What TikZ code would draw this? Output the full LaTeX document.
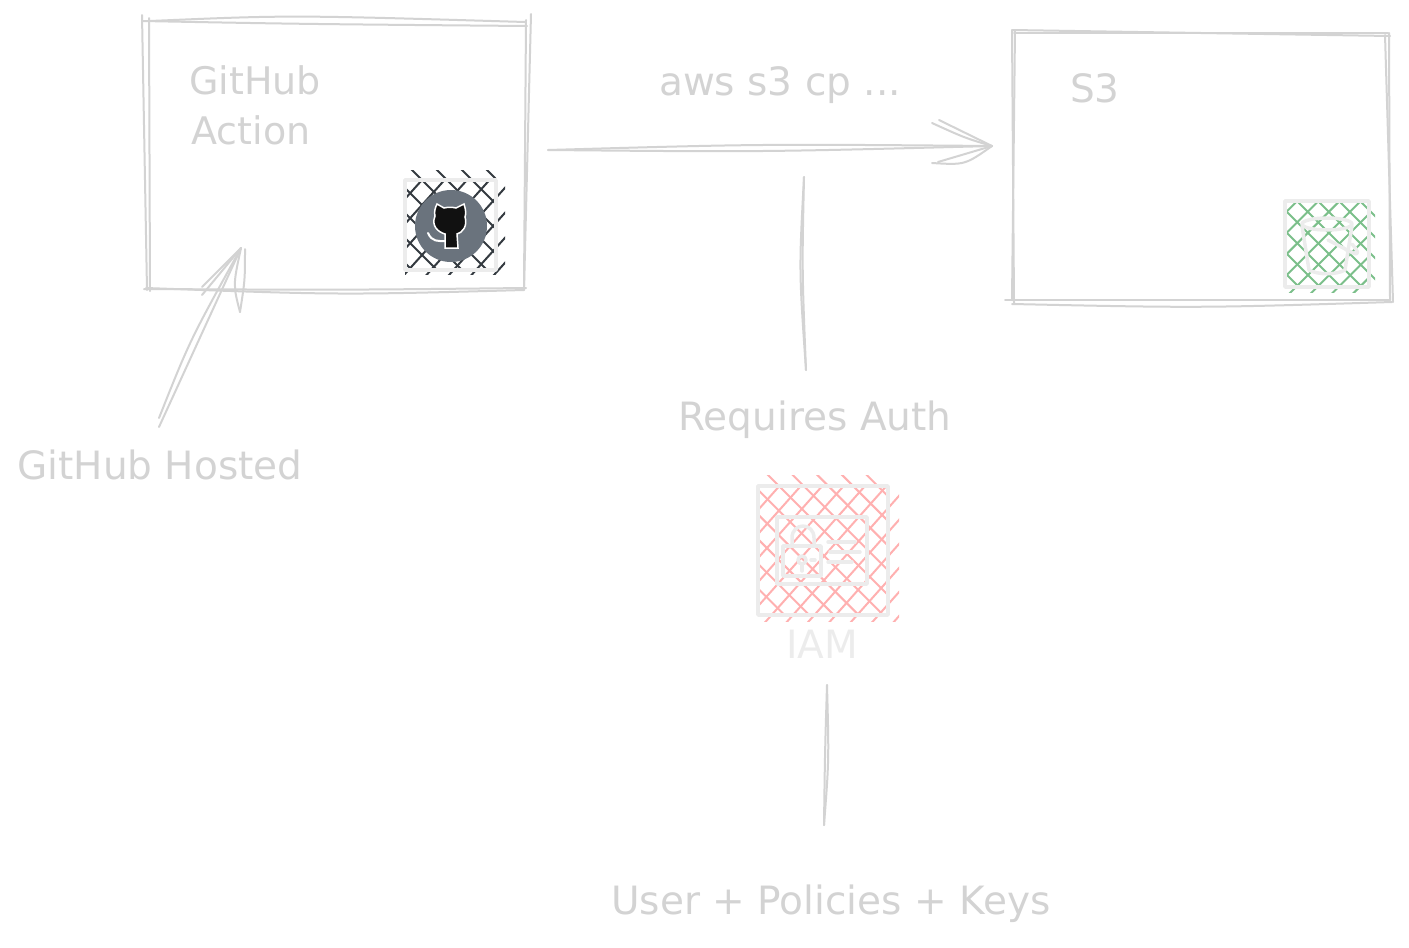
\documentclass[tikz,border=0pt]{standalone}
\usepackage{fontspec}
\setmainfont{DejaVu Sans}
\definecolor{sketchgray}{HTML}{D3D3D3}
\definecolor{iconline}{HTML}{ECECEC}
\definecolor{hatchdark}{HTML}{343A40}
\definecolor{hatchgreen}{HTML}{7BBF8A}
\definecolor{hatchred}{HTML}{FFB0B0}
\definecolor{octogray}{HTML}{6A737D}
\definecolor{octoblack}{HTML}{111111}
\tikzset{
	sketch/.style={draw=sketchgray, line width=2pt, line cap=round},
	iconstroke/.style={draw=iconline, line width=3.5pt, line join=round, line cap=round},
	sketchlabel/.style={text=sketchgray, font=\fontsize{39}{44}\selectfont, inner sep=0pt},
}
% one direction of a hatch: colour, dx per dy, point on a line, spacing, clip corners
\newcommand{\hatchlines}[6]{
	\begin{scope}
		\clip #5 rectangle #6;
		\path #3 coordinate (hatchref);
		\foreach \k in {-14,...,14}
			\draw[#1, line width=2pt] ([shift={(\k*#4-150*#2,-150)}]hatchref) -- ([shift={(\k*#4+150*#2,150)}]hatchref);
	\end{scope}
}
\begin{document}
\begin{tikzpicture}[x=1pt, y=-1pt]
	\useasboundingbox (0,0) rectangle (1409,948);

	% Draw the action box
	\draw[sketch] (142,15) -- (147,290);
	\draw[sketch] (149,18) -- (150,291);
	\draw[sketch] (142,21) .. controls (300,24) .. (527,26);
	\draw[sketch] (150,21) .. controls (290,15) .. (525,22);
	\draw[sketch] (531,14) -- (524,290);
	\draw[sketch] (526,20) -- (524,286);
	\draw[sketch] (144,289) .. controls (340,290) .. (526,288);
	\draw[sketch] (146,288) .. controls (340,295) .. (524,290);

	% Draw the bucket box
	\draw[sketch] (1012,30) -- (1014,303);
	\draw[sketch] (1015,30) -- (1012,300);
	\draw[sketch] (1012,30) -- (1390,36);
	\draw[sketch] (1014,33) -- (1388,33);
	\draw[sketch] (1385,35) -- (1393,302);
	\draw[sketch] (1389,33) -- (1390,300);
	\draw[sketch] (1005,300) -- (1390,300);
	\draw[sketch] (1012,304) .. controls (1200,308) .. (1392,302);

	% Labels
	\node[sketchlabel, font=\fontsize{38}{44}\selectfont] (actionone) at (255,80) {GitHub};
	\node[sketchlabel, font=\fontsize{38}{44}\selectfont] (actiontwo) at (251,130) {Action};
	\node[sketchlabel] (copycmd) at (780,85) {aws s3 cp ...};
	\node[sketchlabel] (bucket) at (1095,88) {S3};
	\node[sketchlabel] (hosted) at (160,465) {GitHub Hosted};
	\node[sketchlabel] (auth) at (815,420) {Requires Auth};
	\node[sketchlabel] (keys) at (831,904) {User + Policies + Keys};
	\node[sketchlabel, text=iconline] (iamlabel) at (822,644) {IAM};

	% Free ends of the connectors
	\coordinate (hostedstart) at (159,427);
	\coordinate (hostedstarttwo) at (159,418);
	\coordinate (hostedend) at (241,248);
	\coordinate (hostedendtwo) at (245,249);
	\coordinate (copystart) at (548,150);
	\coordinate (copyend) at (992,146);
	\coordinate (authtop) at (804,177);
	\coordinate (authend) at (806,370);
	\coordinate (keysstart) at (824,825);
	\coordinate (keysend) at (827,685);

	% Draw the hosted arrow
	\draw[sketch] (hostedstart) -- (hostedend);
	\draw[sketch] (hostedstarttwo) .. controls (190,340) .. (hostedend);
	\draw[sketch] (202,287) -- (hostedend);
	\draw[sketch] (202,295) -- (hostedend);
	\draw[sketch] (240,312) .. controls (233,285) .. (hostedend);
	\draw[sketch] (240,312) .. controls (245,280) .. (hostedendtwo);

	% Draw the copy arrow
	\draw[sketch] (copystart) .. controls (760,152) .. (copyend);
	\draw[sketch] (copystart) .. controls (760,144) .. (copyend);
	\draw[sketch] (932,123) .. controls (965,138) .. (copyend);
	\draw[sketch] (939,120) -- (copyend);
	\draw[sketch] (932,163) .. controls (965,165) .. (copyend);
	\draw[sketch] (938,162) -- (copyend);

	% Draw the plain lines
	\draw[sketch] (authtop) .. controls (799,270) .. (authend);
	\draw[sketch] (authtop) .. controls (802,270) .. (authend);
	\draw[sketch] (keysstart) .. controls (829,760) .. (keysend);
	\draw[sketch] (keysstart) .. controls (825,750) .. (keysend);

	% Draw the github icon
	\hatchlines{hatchdark}{1}{(420,178)}{25}{(405,170)}{(496,270)}
	\hatchlines{hatchdark}{-0.9}{(503,190)}{22.5}{(405,180)}{(505,274)}
	\draw[iconstroke] (405,180) rectangle (496,270);
	\fill[octogray] (451,226) circle (36);
	\draw[white, line width=1.5pt, fill=octoblack] (437,204) -- (444,208) .. controls (448,207) and (452,207) .. (456,208) -- (464,204)
		.. controls (466,210) and (466,214) .. (465,217) .. controls (468,226) and (462,233) .. (457,234) -- (458,248) -- (445,248) -- (445,234)
		.. controls (438,232) and (431,226) .. (435,216) .. controls (434,212) and (435,208) .. (437,204) -- cycle;
	\draw[white, line width=2pt, line cap=round] (428,233) .. controls (432,242) and (438,241) .. (445,241);

	% Draw the bucket icon
	\hatchlines{hatchgreen}{1}{(1372,213)}{21}{(1285,201)}{(1375,287)}
	\hatchlines{hatchgreen}{-1}{(1293,290)}{21.2}{(1285,201)}{(1369,292)}
	\draw[iconstroke] (1285,201) rectangle (1369,287);
	\draw[iconstroke] (1327,224) ellipse (25 and 6);
	\draw[iconstroke] (1302,226) -- (1309,270) .. controls (1318,275) and (1336,275) .. (1345,270) -- (1352,226);
	\draw[iconstroke] (1328,240) -- (1351,252) .. controls (1361,257) and (1358,251) .. (1352,244);

	% Draw the iam icon
	\hatchlines{hatchred}{1}{(777,484)}{24.7}{(758,475)}{(888,615)}
	\hatchlines{hatchred}{-0.89}{(898,497)}{21.4}{(758,486)}{(899,621)}
	\draw[iconstroke] (758,486) rectangle (888,615);
	\draw[iconstroke] (777,517) rectangle (867,584);
	\draw[iconstroke] (783,546) rectangle (821,576);
	\draw[iconstroke] (792,546) -- (792,538) .. controls (792,522) and (814,522) .. (814,538) -- (814,546);
	\draw[iconstroke] (802,560) circle (4);
	\draw[iconstroke] (802,564) -- (802,571);
	\draw[iconstroke] (811,560) -- (815,560);
	\draw[iconstroke] (828,542) -- (855,542);
	\draw[iconstroke] (830,552) -- (860,552);
	\draw[iconstroke] (828,562) -- (852,562);
\end{tikzpicture}
\end{document}
